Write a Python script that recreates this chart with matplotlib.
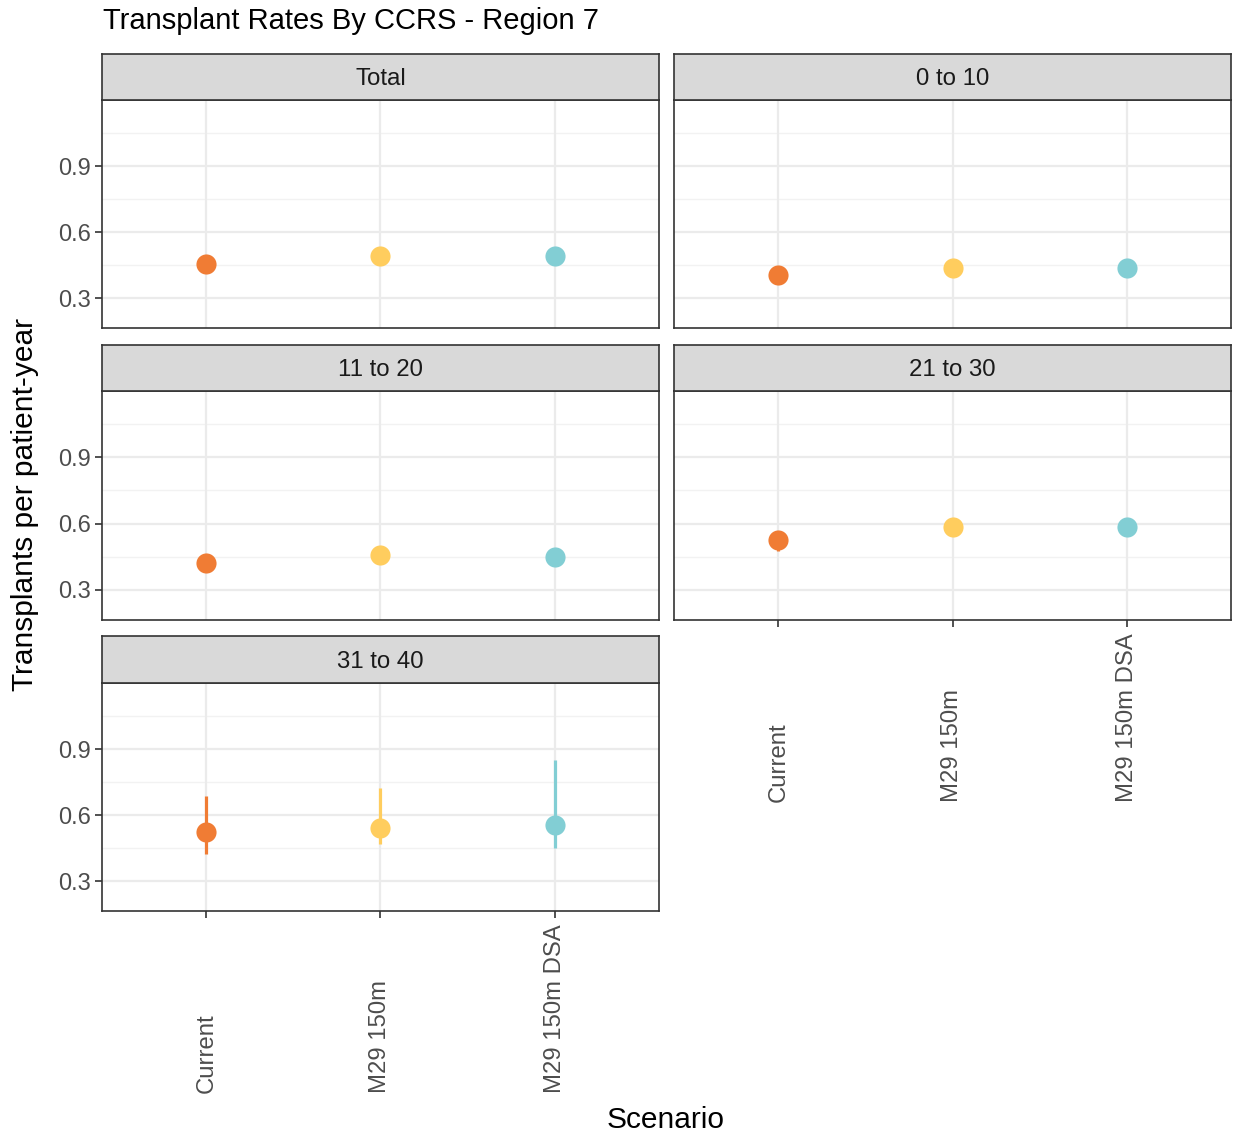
import matplotlib
matplotlib.use("Agg")
import matplotlib.pyplot as plt
from matplotlib.transforms import blended_transform_factory
import numpy as np

plt.rcParams['font.family'] = ['Liberation Sans', 'DejaVu Sans']

scenarios = ["Current", "M29 150m", "M29 150m DSA"]
colors = ["#F07C34", "#FFCD5E", "#82CED4"]
panels = ["Total", "0 to 10", "11 to 20", "21 to 30", "31 to 40"]

rate = {
    "Total":    [0.453, 0.491, 0.491],
    "0 to 10":  [0.405, 0.435, 0.436],
    "11 to 20": [0.420, 0.458, 0.447],
    "21 to 30": [0.527, 0.583, 0.586],
    "31 to 40": [0.523, 0.542, 0.555],
}
lower = {
    "Total":    [0.440, 0.478, 0.478],
    "0 to 10":  [0.392, 0.422, 0.423],
    "11 to 20": [0.405, 0.443, 0.432],
    "21 to 30": [0.477, 0.570, 0.573],
    "31 to 40": [0.421, 0.470, 0.449],
}
upper = {
    "Total":    [0.466, 0.504, 0.504],
    "0 to 10":  [0.418, 0.448, 0.449],
    "11 to 20": [0.435, 0.473, 0.462],
    "21 to 30": [0.545, 0.596, 0.599],
    "31 to 40": [0.686, 0.724, 0.849],
}
yticks = [0.3, 0.6, 0.9]
yminor = [0.45, 0.75, 1.05]

W, H = 1235, 1137
fig = plt.figure(figsize=(W / 100, H / 100), dpi=100)

cols = [(102, 659), (674, 1231)]
rows = [(54, 100, 328), (345, 391, 620), (636, 683, 911)]
layout = [(0, 0), (0, 1), (1, 0), (1, 1), (2, 0)]
bottom_panels = {"21 to 30", "31 to 40"}

def px_rect(x0, y0, x1, y1):
    return [x0 / W, 1 - y1 / H, (x1 - x0) / W, (y1 - y0) / H]

for name, (r, c) in zip(panels, layout):
    x0, x1 = cols[c]
    st, pt, pb = rows[r]
    ax = fig.add_axes(px_rect(x0, pt, x1, pb))
    ax.set_xlim(0.4, 3.6)
    ax.set_ylim(0.164, 1.2)
    ax.set_facecolor("white")
    for yv in yticks:
        ax.axhline(yv, color="#EBEBEB", lw=1.6, zorder=0)
    for yv in yminor:
        ax.axhline(yv, color="#F2F2F2", lw=1.0, zorder=0)
    xs = np.arange(1, len(scenarios) + 1)
    for xv in xs:
        ax.axvline(xv, color="#EBEBEB", lw=1.6, zorder=0)
    for i, s in enumerate(scenarios):
        ax.plot([xs[i], xs[i]], [lower[name][i], upper[name][i]],
                color=colors[i], lw=2.3, zorder=2, solid_capstyle="butt")
        ax.plot(xs[i], rate[name][i], "o", color=colors[i], ms=14.5,
                mec="none", zorder=3)
    for sp in ax.spines.values():
        sp.set_color("#333333")
        sp.set_linewidth(1.2)
    ax.set_yticks(yticks)
    ax.set_xticks(xs)
    ax.tick_params(axis="both", color="#333333", length=5, width=1.2,
                   labelsize=17, labelcolor="#4D4D4D", pad=3)
    if c == 0:
        ax.set_yticklabels([f"{v:.1f}" for v in yticks])
    else:
        ax.tick_params(axis="y", length=0, labelleft=False)
    ax.set_xticklabels([])
    if name in bottom_panels:
        tr = blended_transform_factory(ax.transData, fig.transFigure)
        for i, s in enumerate(scenarios):
            ax.text(xs[i], 1 - (pb + 182) / H, s, rotation=90, ha="center",
                    va="bottom", fontsize=17.2, color="#4D4D4D", transform=tr)
    else:
        ax.tick_params(axis="x", length=0)
    # strip
    sax = fig.add_axes(px_rect(x0, st, x1, pt))
    sax.set_xlim(0, 1)
    sax.set_ylim(0, 1)
    sax.set_facecolor("#D9D9D9")
    sax.set_xticks([])
    sax.set_yticks([])
    for sp in sax.spines.values():
        sp.set_color("#333333")
        sp.set_linewidth(1.2)
    sax.text(0.5, 0.45, name, ha="center", va="center", fontsize=17.3,
             color="#1A1A1A")

fig.text(103 / W, 1 - 21 / H, "Transplant Rates By CCRS - Region 7",
         ha="left", va="center", fontsize=21, color="black")
fig.text(25 / W, 1 - 505 / H, "Transplants per patient-year", rotation=90,
         ha="center", va="center", fontsize=21.5, color="black")
fig.text(666 / W, 1 - 1120 / H, "Scenario", ha="center", va="center",
         fontsize=21.5, color="black")

fig.savefig("out.png", dpi=100, facecolor="white")
